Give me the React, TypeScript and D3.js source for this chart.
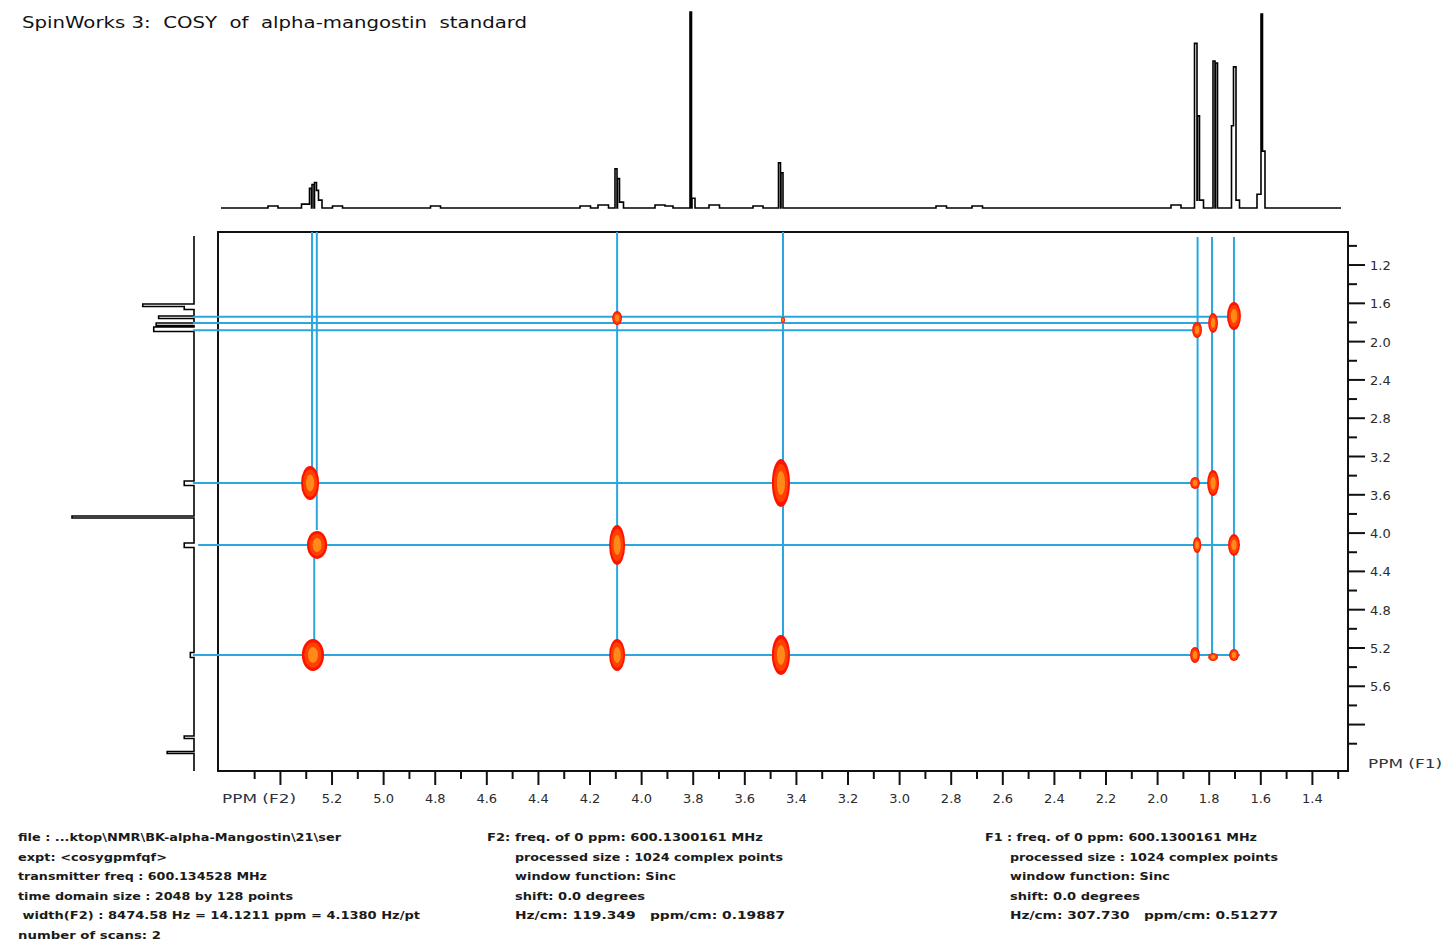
import React from "react";
import * as d3 from "d3";

// ---------- data ----------
const titleText = "SpinWorks 3:  COSY  of  alpha-mangostin  standard";

const f2MajorTicks = [5.4, 5.2, 5.0, 4.8, 4.6, 4.4, 4.2, 4.0, 3.8, 3.6, 3.4, 3.2, 3.0, 2.8, 2.6, 2.4, 2.2, 2.0, 1.8, 1.6, 1.4];
const f2MajorLabels = ["PPM (F2)", "5.2", "5.0", "4.8", "4.6", "4.4", "4.2", "4.0", "3.8", "3.6", "3.4", "3.2", "3.0", "2.8", "2.6", "2.4", "2.2", "2.0", "1.8", "1.6", "1.4"];
const f2MinorTicks = [5.5, 5.3, 5.1, 4.9, 4.7, 4.5, 4.3, 4.1, 3.9, 3.7, 3.5, 3.3, 3.1, 2.9, 2.7, 2.5, 2.3, 2.1, 1.9, 1.7, 1.5, 1.3];

const f1MajorTicks = [1.2, 1.6, 2.0, 2.4, 2.8, 3.2, 3.6, 4.0, 4.4, 4.8, 5.2, 5.6, 6.0];
const f1MajorLabels = ["1.2", "1.6", "2.0", "2.4", "2.8", "3.2", "3.6", "4.0", "4.4", "4.8", "5.2", "5.6", ""];
const f1MinorTicks = [1.0, 1.4, 1.8, 2.2, 2.6, 3.0, 3.4, 3.8, 4.2, 4.6, 5.0, 5.4, 5.8, 6.2];

// 1D projection along F2 (top): ppm, relative height (0-100), half width (ppm)
const topPpm = [5.43, 5.30, 5.285, 5.275, 5.265, 5.258, 5.248, 5.18, 4.80, 4.22, 4.15, 4.100, 4.090, 4.080, 3.93, 3.90, 3.810, 3.800, 3.72, 3.55, 3.467, 3.457, 2.84, 2.70, 1.93, 1.853, 1.843, 1.836, 1.782, 1.772, 1.710, 1.702, 1.695, 1.604, 1.598, 1.590];
const topHeight = [1, 2, 10, 12, 13, 9, 4, 1, 1, 1, 1.5, 20, 15, 3, 1.5, 1, 100, 5, 1.5, 1, 23, 18, 1, 1, 1.5, 84, 47, 4, 75, 74, 42, 72, 4, 7, 99, 29];
const topWidth = [0.02, 0.02, 0.004, 0.004, 0.004, 0.004, 0.008, 0.02, 0.02, 0.02, 0.02, 0.004, 0.004, 0.008, 0.02, 0.02, 0.003, 0.006, 0.02, 0.02, 0.004, 0.004, 0.02, 0.02, 0.02, 0.004, 0.004, 0.012, 0.004, 0.004, 0.004, 0.004, 0.012, 0.012, 0.003, 0.006];

// 1D projection along F1 (left): ppm, relative height (0-100), half width (ppm)
const leftPpm = [1.618, 1.640, 1.743, 1.816, 1.868, 3.477, 3.83, 4.124, 5.27, 6.13, 6.29];
const leftHeight = [42, 8, 29, 31, 33, 8, 100, 8, 3, 8, 22];
const leftWidth = [0.012, 0.02, 0.012, 0.012, 0.022, 0.025, 0.012, 0.025, 0.025, 0.012, 0.012];

// COSY cross peaks: F2 ppm, F1 ppm, half widths in ppm (F2, F1)
const peakF2 = [5.285, 5.258, 5.274, 4.095, 4.095, 3.460, 3.460, 4.095, 3.452, 1.847, 1.785, 1.704, 1.855, 1.785, 1.847, 1.704, 1.855, 1.785, 1.704];
const peakF1 = [3.477, 4.124, 5.273, 4.124, 5.273, 3.477, 5.273, 1.754, 1.774, 1.879, 1.806, 1.733, 3.477, 3.477, 4.124, 4.124, 5.273, 5.294, 5.273];
const peakW2 = [0.035, 0.039, 0.043, 0.031, 0.031, 0.035, 0.035, 0.019, 0.008, 0.019, 0.019, 0.027, 0.019, 0.023, 0.016, 0.023, 0.019, 0.019, 0.019];
const peakW1 = [0.178, 0.146, 0.167, 0.209, 0.167, 0.25, 0.209, 0.073, 0.031, 0.084, 0.104, 0.146, 0.063, 0.136, 0.084, 0.115, 0.084, 0.042, 0.063];

// annotation lines (blue): vertical [F2, F1 from, F1 to]
const vLineF2 = [5.2775, 5.259, 5.269, 4.095, 3.452, 1.845, 1.789, 1.704];
const vLineF1a = [0.855, 0.855, 4.25, 0.855, 0.855, 0.908, 0.908, 0.908];
const vLineF1b = [3.425, 3.968, 5.148, 5.273, 5.325, 5.325, 5.325, 5.273];
// horizontal [F1, F2 from, F2 to]
const hLineF1 = [1.740, 1.806, 1.882, 3.477, 4.124, 5.273];
const hLineF2a = [5.739, 5.739, 5.739, 5.739, 5.719, 5.739];
const hLineF2b = [1.727, 1.789, 1.863, 1.780, 1.681, 1.681];

const infoCol1 = [
  "file : ...ktop\\NMR\\BK-alpha-Mangostin\\21\\ser",
  "expt: <cosygpmfqf>",
  "transmitter freq : 600.134528 MHz",
  "time domain size : 2048 by 128 points",
  " width(F2) : 8474.58 Hz = 14.1211 ppm = 4.1380 Hz/pt",
  "number of scans: 2",
];
const infoCol2 = [
  "F2: freq. of 0 ppm: 600.1300161 MHz",
  "processed size : 1024 complex points",
  "window function: Sinc",
  "shift: 0.0 degrees",
  "Hz/cm: 119.349   ppm/cm: 0.19887",
];
const infoCol3 = [
  "F1 : freq. of 0 ppm: 600.1300161 MHz",
  "processed size : 1024 complex points",
  "window function: Sinc",
  "shift: 0.0 degrees",
  "Hz/cm: 307.730   ppm/cm: 0.51277",
];
const col1Widths = [323, 149, 249, 275, 402, 143];
const col2Widths = [276, 268, 161, 130, 270];
const col3Widths = [272, 268, 160, 130, 268];

// ---------- layout ----------
const W = 1446, H = 943;
const FX0 = 218, FX1 = 1348, FY0 = 232, FY1 = 771;
const BLUE = "#2aa7df";
const FONT = "'DejaVu Sans', Verdana, sans-serif";

export default function App() {
  const xs = d3.scaleLinear().domain([5.642, 1.262]).range([FX0, FX1]);
  const ys = d3.scaleLinear().domain([0.855, 6.485]).range([FY0, FY1]);
  const topY = d3.scaleLinear().domain([0, 100]).range([208, 12]);
  const leftX = d3.scaleLinear().domain([0, 100]).range([194, 72]);

  const topPts: [number, number][] = [];
  for (let px = 221; px <= 1341; px += 0.5) {
    const ppm = xs.invert(px);
    let v = 0;
    topPpm.forEach((p, i) => {
      if (Math.abs(ppm - p) <= topWidth[i] && topHeight[i] > v) v = topHeight[i];
    });
    topPts.push([px, topY(v)]);
  }
  const topPath = d3.line().curve(d3.curveStepAfter)(topPts) || "";

  const leftPts: [number, number][] = [];
  for (let py = 236; py <= FY1; py += 0.5) {
    const ppm = ys.invert(py);
    let v = 0;
    leftPpm.forEach((p, i) => {
      if (Math.abs(ppm - p) <= leftWidth[i] && leftHeight[i] > v) v = leftHeight[i];
    });
    leftPts.push([leftX(v), py]);
  }
  const leftPath = d3.line().curve(d3.curveStepBefore)(leftPts) || "";

  const pre = { whiteSpace: "pre" as const };

  return (
    <svg width={W} height={H} style={{ display: "block", position: "absolute", left: 0, top: 0 }} fontFamily={FONT}>
      <rect x={0} y={0} width={W} height={H} fill="#ffffff" />
      <text x={22} y={28} fontSize={16} fill="#111" textLength={505} lengthAdjust="spacingAndGlyphs" style={pre}>{titleText}</text>

      <path d={topPath} fill="none" stroke="#000" strokeWidth={1.6} />
      <path d={leftPath} fill="none" stroke="#000" strokeWidth={1.6} />

      <rect x={FX0} y={FY0} width={FX1 - FX0} height={FY1 - FY0} fill="none" stroke="#111" strokeWidth={2} />

      {vLineF2.map((f2, i) => (
        <line key={"v" + i} x1={xs(f2)} x2={xs(f2)} y1={ys(vLineF1a[i])} y2={ys(vLineF1b[i])} stroke={BLUE} strokeWidth={2} />
      ))}
      {hLineF1.map((f1, i) => (
        <line key={"h" + i} x1={xs(hLineF2a[i])} x2={xs(hLineF2b[i])} y1={ys(f1)} y2={ys(f1)} stroke={BLUE} strokeWidth={2} />
      ))}

      {peakF2.map((f2, i) => {
        const cx = xs(f2), cy = ys(peakF1[i]);
        const rx = Math.abs(xs(f2 + peakW2[i]) - cx);
        const ry = Math.abs(ys(peakF1[i] + peakW1[i]) - cy);
        return (
          <g key={"p" + i}>
            <ellipse cx={cx} cy={cy} rx={rx} ry={ry} fill="#ff1200" />
            <ellipse cx={cx} cy={cy} rx={rx * 0.78} ry={ry * 0.8} fill="#ff4000" />
            <ellipse cx={cx} cy={cy} rx={rx * 0.45} ry={ry * 0.5} fill="#ff8a1a" />
          </g>
        );
      })}

      {f2MajorTicks.map((t, i) => (
        <g key={"xm" + i}>
          <line x1={xs(t)} x2={xs(t)} y1={FY1} y2={FY1 + 14} stroke="#111" strokeWidth={2} />
          {i === 0 ? (
            <text x={222} y={803} fontSize={13} fill="#2b3440" textLength={74} lengthAdjust="spacingAndGlyphs" style={pre}>{f2MajorLabels[i]}</text>
          ) : (
            <text x={xs(t)} y={803} fontSize={13} fill="#2b2b2b" textAnchor="middle">{f2MajorLabels[i]}</text>
          )}
        </g>
      ))}
      {f2MinorTicks.map((t, i) => (
        <line key={"xn" + i} x1={xs(t)} x2={xs(t)} y1={FY1} y2={FY1 + 8} stroke="#111" strokeWidth={2} />
      ))}

      {f1MajorTicks.map((t, i) => (
        <g key={"ym" + i}>
          <line x1={FX1} x2={FX1 + 17} y1={ys(t)} y2={ys(t)} stroke="#111" strokeWidth={2} />
          <text x={FX1 + 22} y={ys(t) + 5} fontSize={13} fill="#2b2b2b">{f1MajorLabels[i]}</text>
        </g>
      ))}
      {f1MinorTicks.map((t, i) => (
        <line key={"yn" + i} x1={FX1} x2={FX1 + 9} y1={ys(t)} y2={ys(t)} stroke="#111" strokeWidth={2} />
      ))}
      <text x={1368} y={768} fontSize={13} fill="#2b3440" textLength={74} lengthAdjust="spacingAndGlyphs" style={pre}>PPM (F1)</text>

      {infoCol1.map((s, i) => (
        <text key={"c1" + i} x={18} y={841 + i * 19.6} fontSize={11} fontWeight="bold" fill="#1a1a1a" textLength={col1Widths[i]} lengthAdjust="spacingAndGlyphs" style={pre}>{s}</text>
      ))}
      {infoCol2.map((s, i) => (
        <text key={"c2" + i} x={i === 0 ? 487 : 515} y={841 + i * 19.6} fontSize={11} fontWeight="bold" fill="#1a1a1a" textLength={col2Widths[i]} lengthAdjust="spacingAndGlyphs" style={pre}>{s}</text>
      ))}
      {infoCol3.map((s, i) => (
        <text key={"c3" + i} x={i === 0 ? 985 : 1010} y={841 + i * 19.6} fontSize={11} fontWeight="bold" fill="#1a1a1a" textLength={col3Widths[i]} lengthAdjust="spacingAndGlyphs" style={pre}>{s}</text>
      ))}
    </svg>
  );
}
